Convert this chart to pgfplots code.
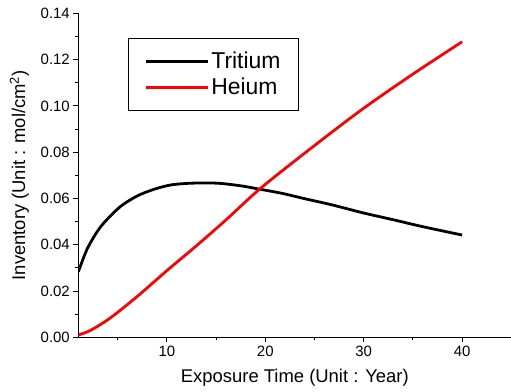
\documentclass[border=0pt]{standalone}
\usepackage{pgfplots}
\pgfplotsset{compat=1.18}
\usepackage{fontspec}
\setmainfont{Liberation Sans}
\begin{document}
\begin{tikzpicture}
\begin{axis}[
  scale only axis,
  width=433bp, height=324bp,
  xmin=1, xmax=45, ymin=0, ymax=0.14,
  axis x line*=bottom, axis y line*=left,
  axis line style={-, line width=0.9pt},
  tick align=outside,
  major tick length=5bp, minor tick length=3bp,
  tick style={line width=0.8pt, black},
  xtick={10,20,30,40},
  minor xtick={5,15,25,35,45},
  ytick={0,0.02,0.04,0.06,0.08,0.10,0.12,0.14},
  minor ytick={0.01,0.03,0.05,0.07,0.09,0.11,0.13},
  scaled y ticks=false,
  yticklabel style={/pgf/number format/.cd, fixed, fixed zerofill, precision=2},
  /pgf/number format/assume math mode=true,
  ticklabel style={font=\fontsize{15}{18}\selectfont},
  xlabel={Exposure Time (Unit : Year)},
  ylabel={Inventory (Unit : mol/cm\textsuperscript{2})},
  label style={font=\fontsize{18.5}{22}\selectfont},
  xlabel style={yshift=-6bp},
  ylabel style={yshift=5bp},
  legend style={at={(0.115,0.924)}, anchor=north west, draw=black, line width=0.6pt,
    font=\fontsize{23}{27}\selectfont, inner xsep=16bp, inner ysep=12bp,
    row sep=4bp, cells={anchor=west}},
  legend image code/.code={\draw[#1, line width=3pt] (0bp,0bp) -- (62bp,0bp);},
]
\coordinate (O) at (rel axis cs:0,0);
\addplot[black, line width=2.8pt, smooth, line join=round] coordinates {
(1,0.0283) (1.85,0.0377) (2.7,0.0442) (3.55,0.0492) (5.25,0.0564) (6.95,0.0610)
(8.65,0.0639) (10.35,0.0658) (12.05,0.0665) (13.75,0.0667) (15.45,0.0665)
(17.6,0.0654) (19.3,0.0641) (21.7,0.0622) (24,0.0599) (26.8,0.0572) (30,0.0537)
(33,0.0508) (36,0.0478) (40,0.0442)};
\addlegendentry{Tritium}
\addplot[red, line width=2.8pt, smooth, line join=round] coordinates {
(1,0.0010) (2.2,0.0029) (4.2,0.0082) (6.95,0.0175) (10,0.0288) (13.1,0.0399)
(16,0.0507) (19.5,0.0643) (24.5,0.0812) (29.75,0.0982) (34.85,0.1133) (40,0.1277)};
\addlegendentry{Heium}
\end{axis}
\pgfresetboundingbox
\path[use as bounding box] (O) ++(-78.3bp,-54.7bp) rectangle ++(511bp,392bp);
\end{tikzpicture}
\end{document}
